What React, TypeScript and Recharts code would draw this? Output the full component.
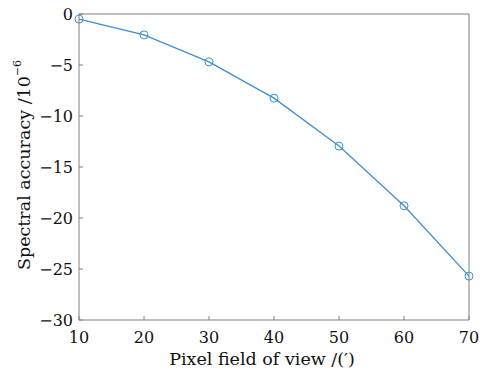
import React from 'react';
import { LineChart, Line, XAxis, YAxis, ReferenceLine } from 'recharts';

const fieldOfView = [10, 20, 30, 40, 50, 60, 70];
const accuracy = [-0.5, -2.05, -4.7, -8.25, -12.95, -18.8, -25.7];
const xTicks = [10, 20, 30, 40, 50, 60, 70];
const yTicks = [0, -5, -10, -15, -20, -25, -30];

const data = fieldOfView.map((fov, i) => ({ fov, acc: accuracy[i] }));

const FONT = '"DejaVu Serif", serif';
const AXIS = '#808080';
const LINE = '#3d8fd1';

const fmt = (v: number) => (v < 0 ? `\u2212${Math.abs(v)}` : `${v}`);

const YLabel = () => {
  const cy = 165;
  const cx = 24;
  return (
    <text
      x={cx}
      y={cy}
      transform={`rotate(-90, ${cx}, ${cy})`}
      textAnchor="middle"
      dominantBaseline="central"
      fontFamily={FONT}
      fontSize={17.5}
      fill="#111"
    >
      Spectral accuracy /10
      <tspan dy={-7} fontSize={11}>{'\u22126'}</tspan>
    </text>
  );
};

const XLabel = () => (
  <text x={262} y={365} textAnchor="middle" fontFamily={FONT} fontSize={17.5} fill="#111">
    {'Pixel field of view /(\u2032)'}
  </text>
);

const App: React.FC = () => {
  return (
    <div style={{ position: 'fixed', left: 0, top: 0, width: 486, height: 375, background: '#fff' }}>
      <LineChart width={486} height={375} data={data} margin={{ top: 14, right: 17, bottom: 0, left: 0 }}>
        <XAxis
          dataKey="fov"
          type="number"
          domain={[10, 70]}
          ticks={xTicks}
          height={55}
          tickSize={-4}
          tickMargin={16}
          stroke={AXIS}
          tick={{ fill: '#111', fontFamily: FONT, fontSize: 16 }}
          label={<XLabel />}
        />
        <YAxis
          type="number"
          domain={[-30, 0]}
          ticks={yTicks}
          width={79}
          tickSize={-4}
          tickMargin={10}
          tickFormatter={fmt}
          stroke={AXIS}
          tick={{ fill: '#111', fontFamily: FONT, fontSize: 16 }}
          label={<YLabel />}
        />
        <ReferenceLine y={0} stroke={AXIS} />
        <ReferenceLine x={70} stroke={AXIS} />
        <Line
          dataKey="acc"
          stroke={LINE}
          strokeWidth={1.3}
          dot={{ r: 4, stroke: LINE, strokeWidth: 1, fill: 'none' }}
          isAnimationActive={false}
        />
      </LineChart>
    </div>
  );
};

export default App;
